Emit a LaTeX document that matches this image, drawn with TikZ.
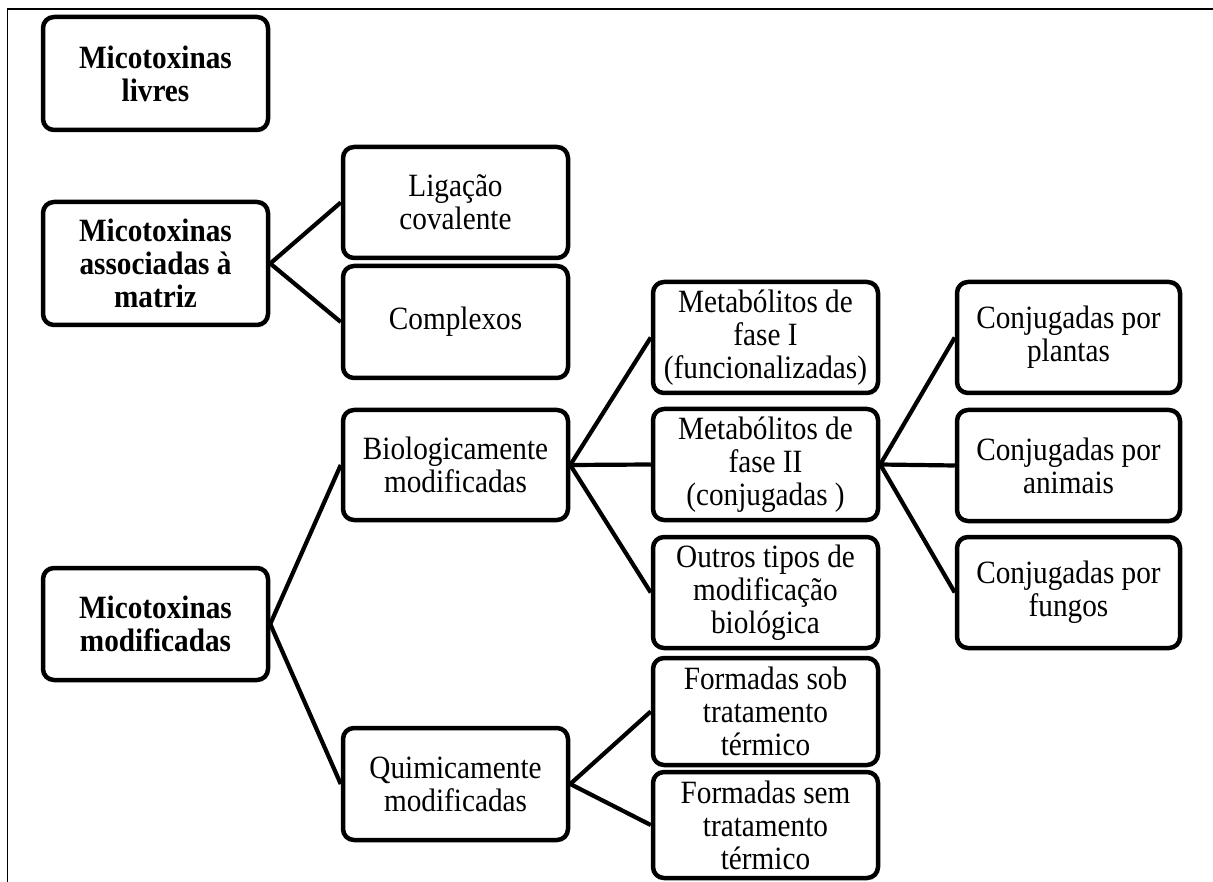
\documentclass[tikz,border=0pt]{standalone}
\usepackage{fontspec}
\setmainfont{Liberation Serif}[FakeStretch=0.9]
\begin{document}
\begin{tikzpicture}[x=1pt,y=-1pt,
  box/.style={draw, line width=4.5pt, rounded corners=11pt, minimum width=225pt, minimum height=111pt, inner sep=0pt, align=center, font=\fontsize{32.5}{33}\selectfont},
  boldbox/.style={box, font=\fontsize{32.5}{33}\selectfont\bfseries},
  link/.style={line width=4.2pt},
  frame/.style={line width=1.5pt}]
\useasboundingbox (0,0) rectangle (1213,882);
\coordinate (fbl) at (7.5,882);
\coordinate (ftl) at (7.5,9);
\coordinate (ftr) at (1213,9);
\draw[frame] (fbl) -- (ftl) -- (ftr);

\node[boldbox, minimum height=113pt] (livres) at (155.5,73.5) {Micotoxinas\\livres};
\node[boldbox, minimum height=123pt] (assoc) at (155.5,263.5) {Micotoxinas\\associadas à\\matriz};
\node[boldbox, minimum height=112pt] (mod) at (155.5,624) {Micotoxinas\\modificadas};

\node[box] (lig) at (455.5,202.5) {Ligação\\covalente};
\node[box, minimum height=112pt] (comp) at (455.5,322) {Complexos};
\node[box, minimum height=110pt] (bio) at (455.5,465) {Biologicamente\\modificadas};
\node[box, minimum height=112pt] (quim) at (455.5,784) {Quimicamente\\modificadas};

\node[box] (f1) at (765.5,337.5) {Metabólitos de\\fase I\\(funcionalizadas)};
\node[box] (f2) at (765.5,464.5) {Metabólitos de\\fase II\\(conjugadas )};
\node[box] (outros) at (765.5,592.5) {Outros tipos de\\modificação\\biológica};
\node[box, minimum height=107pt] (fsob) at (765.5,711.5) {Formadas sob\\tratamento\\térmico};
\node[box, minimum height=106pt] (fsem) at (765.5,825) {Formadas sem\\tratamento\\térmico};

\node[box, minimum width=223pt] (plantas) at (1068.5,337.5) {Conjugadas por\\plantas};
\node[box, minimum width=223pt] (animais) at (1068.5,465.5) {Conjugadas por\\animais};
\node[box, minimum width=223pt] (fungos) at (1068.5,592.5) {Conjugadas por\\fungos};

\draw[link] (assoc.east) -- (lig.west);
\draw[link] (assoc.east) -- (comp.west);
\draw[link] (mod.east) -- (bio.west);
\draw[link] (mod.east) -- (quim.west);
\draw[link] (bio.east) -- (f1.west);
\draw[link] (bio.east) -- (f2.west);
\draw[link] (bio.east) -- (outros.west);
\draw[link] (quim.east) -- (fsob.west);
\draw[link] (quim.east) -- (fsem.west);
\draw[link] (f2.east) -- (plantas.west);
\draw[link] (f2.east) -- (animais.west);
\draw[link] (f2.east) -- (fungos.west);
\end{tikzpicture}
\end{document}
